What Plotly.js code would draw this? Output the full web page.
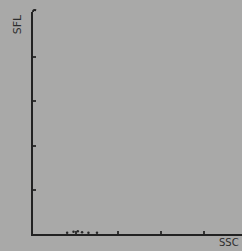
<!DOCTYPE html>
<html>
<head>
<meta charset="utf-8">
<script src="https://cdn.plot.ly/plotly-3.0.1.min.js"></script>
<style>html,body{margin:0;padding:0;background:#a9a9a8;}#chart{width:242px;height:251px;}</style>
</head>
<body>
<div id="chart"></div>
<script>
// Data (arbitrary units)
const ssc = [0.8, 0.95, 1.05, 1.15, 1.3, 1.5];
const sfl = [0.03, 0.05, 0.06, 0.04, 0.03, 0.03];
const xTicks = [1, 2, 3, 4];
const yTicks = [1, 2, 3, 4];

const trace = {
  x: ssc, y: sfl, type: 'scatter', mode: 'markers',
  marker: {size: 2.5, color: '#2a2a2a'},
  cliponaxis: false, hoverinfo: 'skip'
};

const layout = {
  width: 242, height: 251,
  margin: {l: 33, r: 0, t: 12, b: 17},
  paper_bgcolor: '#a9a9a8', plot_bgcolor: '#a9a9a8',
  showlegend: false,
  xaxis: {
    range: [0, 4.9], showgrid: false, zeroline: false,
    showline: true, linecolor: '#222', linewidth: 2,
    ticks: 'inside', ticklen: 3, tickwidth: 2, tickcolor: '#333',
    tickvals: xTicks, showticklabels: false
  },
  yaxis: {
    range: [0, 5.02], showgrid: false, zeroline: false,
    showline: true, linecolor: '#222', linewidth: 2,
    ticks: 'inside', ticklen: 3, tickwidth: 2, tickcolor: '#333',
    tickvals: yTicks, showticklabels: false
  },
  shapes: [{
    type: 'path', xref: 'paper', yref: 'paper',
    path: 'M 0 1 Q 0 1.012 0.015 1.008',
    line: {color: '#222', width: 2}
  }],
  annotations: [
    {text: 'SFL', xref: 'paper', yref: 'paper', x: -0.075, y: 1.0,
     xanchor: 'center', yanchor: 'top', textangle: -90, showarrow: false,
     font: {family: 'DejaVu Sans', size: 11, color: '#2e2e2e'}},
    {text: 'SSC', xref: 'paper', yref: 'paper', x: 0.995, y: -0.004,
     xanchor: 'right', yanchor: 'top', showarrow: false,
     font: {family: 'DejaVu Sans', size: 10, color: '#2e2e2e'}}
  ]
};

Plotly.newPlot('chart', [trace], layout, {displayModeBar: false, staticPlot: true});
</script>
</body>
</html>
